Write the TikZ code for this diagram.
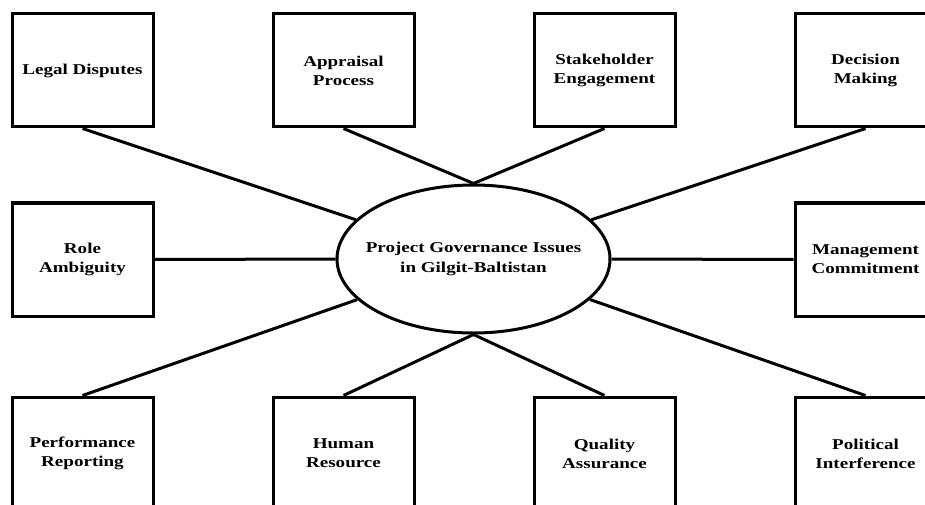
\documentclass[tikz,border=0pt]{standalone}
\usepackage{fontspec}
\setmainfont{Liberation Serif}[FakeStretch=1.27]
\usetikzlibrary{shapes.geometric}

\tikzset{
  issue/.style={draw, line width=3pt, rectangle, minimum width=141pt, minimum height=113pt,
    align=center, font=\bfseries\fontsize{15}{19}\selectfont},
  hubnode/.style={draw, line width=3pt, ellipse, minimum width=273pt, minimum height=148pt,
    inner sep=0pt},
  hubtext/.style={align=center, font=\bfseries\fontsize{15}{20}\selectfont},
  link/.style={line width=3pt}
}

\begin{document}
\begin{tikzpicture}[x=1pt, y=1pt]
  \path[use as bounding box, clip] (0,0) rectangle (925,504);

  \node[hubnode] (hub) at (473.5,245) {};
  \node[hubtext] (hublabel) at (hub.center) {Project Governance Issues\\in Gilgit-Baltistan};

  % top row
  \node[issue] (legal)    at (82.5,433.5)  {Legal Disputes};
  \node[issue] (appraise) at (343.5,433.5) {Appraisal\\Process};
  \node[issue] (stake)    at (604.5,433.5) {Stakeholder\\Engagement};
  \node[issue] (decide)   at (865.5,433.5) {Decision\\Making};

  % middle row
  \node[issue] (role) at (82.5,244.5)  {Role\\Ambiguity};
  \node[issue] (mgmt) at (865.5,244.5) {Management\\Commitment};

  % bottom row
  \node[issue] (perf)    at (82.5,50.5)  {Performance\\Reporting};
  \node[issue] (human)   at (343.5,50.5) {Human\\Resource};
  \node[issue] (quality) at (604.5,50.5) {Quality\\Assurance};
  \node[issue] (politic) at (865.5,50.5) {Political\\Interference};

  \draw[link] (legal.south) -- (hub);
  \draw[link] (appraise.south) -- (hub.north);
  \draw[link] (stake.south) -- (hub.north);
  \draw[link] (decide.south) -- (hub);
  \draw[link] (role.east) -- (hub.west);
  \draw[link] (hub.east) -- (mgmt.west);
  \draw[link] (perf.north) -- (hub);
  \draw[link] (human.north) -- (hub.south);
  \draw[link] (quality.north) -- (hub.south);
  \draw[link] (politic.north) -- (hub);
\end{tikzpicture}
\end{document}
